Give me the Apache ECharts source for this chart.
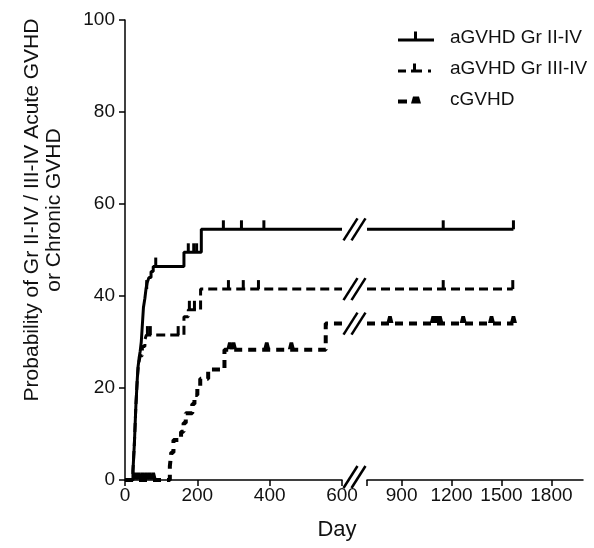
<!DOCTYPE html>
<html><head><meta charset="utf-8">
<script src="https://cdn.jsdelivr.net/npm/echarts@6/dist/echarts.min.js"></script>
<style>html,body{margin:0;padding:0;background:#fff}#c{width:594px;height:548px}</style>
</head><body><div id="c"></div>
<script>
// ---- data ----
const seriesNames = ['aGVHD Gr II-IV', 'aGVHD Gr III-IV', 'cGVHD'];
const yTicks = [0, 20, 40, 60, 80, 100];
const xTicksLeft = [0, 200, 400, 600];
const xTicksRight = [900, 1200, 1500, 1800];
const yTitle = 'Probability of Gr II-IV / III-IV Acute GVHD\nor Chronic GVHD';
const xTitle = 'Day';

// step points [day, cumulative incidence %]
const gvhd24Steps = [[0,0],[22,2],[24,5],[26,8],[28,12],[30,16],[32,19],[34,22],[36,24.5],[39,26.5],[42,28],[45,30],[47,32.5],[49,35],[51,37.5],[55,39.5],[58,41.5],[61,42.8],[66,44],[72,45.3],[78,46.4],[163,49.5],[211,54.5],[1572,54.5]];
const gvhd24Censor = [60, 85, 175, 190, 198, 272, 322, 384, 1150, 1572];

const gvhd34Steps = [[0,0],[22,2],[24,5],[26,8],[28,12],[30,16],[32,19],[34,22],[37,25],[42,27],[48,29],[55,30.5],[59,31.5],[163,35.5],[175,37],[209,41.5],[1568,41.5]];
const gvhd34Censor = [62, 70, 147, 178, 192, 286, 327, 369, 1150, 1568];

const cgvhdSteps = [[0,0],[124,3],[128,6],[134,8.7],[155,10.5],[162,12.4],[168,14.5],[186,16.5],[192,18.5],[200,20.3],[208,22],[230,24],[275,28.3],[555,34],[1572,34]];
const cgvhdCensor = [28, 38, 48, 58, 68, 78, 290, 300, 392, 460, 830, 1090, 1110, 1130, 1270, 1440, 1572];

// ---- axis segments (broken x axis) ----
const LEFT_MIN = 0, LEFT_MAX = 600, RIGHT_MIN = 692, RIGHT_MAX = 1990;

function valueAt(steps, d) {
  let v = steps[0][1];
  for (const [t, y] of steps) { if (t <= d) v = y; else break; }
  return v;
}
function leftPart(steps) {
  const pts = steps.filter(p => p[0] <= LEFT_MAX).map(p => p.slice());
  pts.push([LEFT_MAX, valueAt(steps, LEFT_MAX)]);
  return pts;
}
function rightPart(steps) {
  const pts = [[RIGHT_MIN, valueAt(steps, RIGHT_MIN)]];
  steps.filter(p => p[0] > RIGHT_MIN).forEach(p => pts.push(p.slice()));
  return pts;
}
function censorPts(steps, days, left) {
  return days.filter(d => left ? d <= LEFT_MAX : d >= RIGHT_MIN).map(d => [d, valueAt(steps, d)]);
}

const FONT = 'Liberation Sans, Arial, sans-serif';
const allSteps = [gvhd24Steps, gvhd34Steps, cgvhdSteps];
const allCensor = [gvhd24Censor, gvhd34Censor, cgvhdCensor];
const lineStyles = [
  { width: 3, type: 'solid' },
  { width: 3, type: [9, 5] },
  { width: 4, type: [8, 6] }
];
const censorSymbols = [
  { symbol: 'rect', size: [3, 9], offset: [0, -4.5] },
  { symbol: 'rect', size: [3, 9], offset: [0, -4.5] },
  { symbol: 'path://M0,10 L2,0 L6,0 L8,10 Z', size: [7, 7], offset: [0, -4] }
];

const series = [];
seriesNames.forEach((name, i) => {
  [true, false].forEach((left) => {
    const gi = left ? 0 : 1;
    series.push({
      name, type: 'line', step: 'end', symbol: 'none',
      xAxisIndex: gi, yAxisIndex: gi,
      data: left ? leftPart(allSteps[i]) : rightPart(allSteps[i]),
      lineStyle: Object.assign({ color: '#000', cap: 'butt', opacity: 1 }, lineStyles[i]),
      itemStyle: { color: '#000' },
      animation: false, silent: true, z: 3
    });
    series.push({
      name, type: 'scatter',
      xAxisIndex: gi, yAxisIndex: gi,
      data: censorPts(allSteps[i], allCensor[i], left),
      symbol: censorSymbols[i].symbol,
      symbolSize: censorSymbols[i].size,
      symbolOffset: censorSymbols[i].offset,
      itemStyle: { color: '#000', opacity: 1, borderWidth: 0 },
      emphasis: { disabled: true },
      animation: false, silent: true, z: 4
    });
  });
});

const legendIcons = [
  'path://M0,0 L0.01,0 Z M47,14 L46.99,14 Z M0,8 L36,8 L36,11 L0,11 Z M16,1 L19,1 L19,8 L16,8 Z',
  'path://M0,0 L0.01,0 Z M47,14 L46.99,14 Z M0,8 L8,8 L8,11 L0,11 Z M13,8 L24,8 L24,11 L13,11 Z M15,2 L18,2 L18,8 L15,8 Z M30,8 L33,8 L33,11 L30,11 Z',
  'path://M0,0 L0.01,0 Z M47,14 L46.99,14 Z M0,7 L9,7 L9,11 L0,11 Z M13,11 L15,4 L21,4 L23,11 Z'
];

const plain = v => String(v);
const axisLineStyle = { color: '#000', width: 1.5 };
const chart = echarts.init(document.getElementById('c'), null, { renderer: 'canvas' });
const option = {
  backgroundColor: '#fff',
  animation: false,
  grid: [
    { left: 125, top: 20, width: 217, height: 460 },
    { left: 367, top: 20, width: 216, height: 460 }
  ],
  xAxis: [
    {
      gridIndex: 0, type: 'value', min: LEFT_MIN, max: LEFT_MAX, interval: 200,
      axisLine: { lineStyle: axisLineStyle },
      axisTick: { length: 6, lineStyle: axisLineStyle, customValues: xTicksLeft },
      axisLabel: { customValues: xTicksLeft, formatter: plain, color: '#111', fontSize: 19, fontFamily: FONT, margin: 6 },
      splitLine: { show: false }
    },
    {
      gridIndex: 1, type: 'value', min: RIGHT_MIN, max: RIGHT_MAX,
      axisLine: { lineStyle: axisLineStyle },
      axisTick: { length: 6, lineStyle: axisLineStyle, customValues: [RIGHT_MIN].concat(xTicksRight) },
      axisLabel: { customValues: xTicksRight, formatter: plain, color: '#111', fontSize: 19, fontFamily: FONT, margin: 6 },
      splitLine: { show: false }
    }
  ],
  yAxis: [
    {
      gridIndex: 0, type: 'value', min: 0, max: 100, interval: 20,
      axisLine: { show: true, lineStyle: axisLineStyle },
      axisTick: { show: true, length: 6, lineStyle: axisLineStyle, customValues: yTicks },
      axisLabel: { customValues: yTicks, formatter: plain, color: '#111', fontSize: 19, fontFamily: FONT, margin: 10 },
      splitLine: { show: false }
    },
    { gridIndex: 1, type: 'value', min: 0, max: 100, show: false, splitLine: { show: false } }
  ],
  legend: {
    orient: 'vertical', left: 393, top: 23,
    itemWidth: 47, itemHeight: 14, itemGap: 12,
    selectedMode: false,
    data: seriesNames.map((n, i) => ({ name: n, icon: legendIcons[i] })),
    itemStyle: { color: '#000', borderWidth: 0, opacity: 1 },
    textStyle: { color: '#111', fontSize: 19, fontFamily: FONT, lineHeight: 19 }
  },
  series
};
chart.setOption(option);

// titles + axis break marks
const xL = chart.convertToPixel({ xAxisIndex: 0 }, LEFT_MAX);
const xR = chart.convertToPixel({ xAxisIndex: 1 }, RIGHT_MIN);
const cx = (xL + xR) / 2;
const axisY = chart.convertToPixel({ yAxisIndex: 0 }, 0);
const breakYs = [axisY - 3]
  .concat(allSteps.map(s => chart.convertToPixel({ yAxisIndex: 0 }, valueAt(s, LEFT_MAX))));
const graphics = [
  {
    type: 'text', x: 43, y: 210, rotation: Math.PI / 2, silent: true,
    style: { text: yTitle, fontSize: 21, fontFamily: FONT, fill: '#111', align: 'center', verticalAlign: 'middle', lineHeight: 22 }
  },
  {
    type: 'text', x: 337, y: 530, silent: true,
    style: { text: xTitle, fontSize: 22, fontFamily: FONT, fill: '#111', align: 'center', verticalAlign: 'middle' }
  }
];
breakYs.forEach(y => {
  [-4, 4].forEach(off => {
    graphics.push({
      type: 'line', silent: true, z: 10,
      shape: { x1: cx + off - 7, y1: y + 11, x2: cx + off + 7, y2: y - 11 },
      style: { stroke: '#000', lineWidth: 2.5 }
    });
  });
});
chart.setOption({ graphic: graphics });
</script>
</body></html>
